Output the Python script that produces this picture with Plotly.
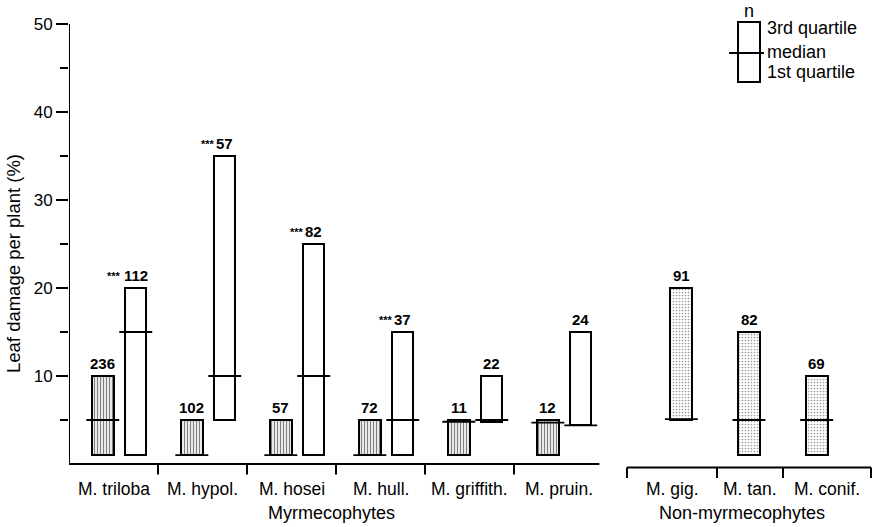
import plotly.graph_objects as go

# ---------------- data ----------------
myrm_species = ["M. triloba", "M. hypol.", "M. hosei", "M. hull.", "M. griffith.", "M. pruin."]
non_species = ["M. gig.", "M. tan.", "M. conif."]
group_names = ["Myrmecophytes", "Non-myrmecophytes"]

# hatched bars (first bar of each myrmecophyte pair)
hat_q1 = [1, 1, 1, 1, 1, 1]
hat_med = [5, 1, 1, 1, 4.8, 4.7]
hat_q3 = [10, 5, 5, 5, 5, 5]
hat_n = [236, 102, 57, 72, 11, 12]

# open bars (second bar of each myrmecophyte pair)
open_q1 = [1, 5, 1, 1, 4.8, 4.4]
open_med = [15, 10, 10, 5, 5, 4.4]
open_q3 = [20, 35, 25, 15, 10, 15]
open_n = [112, 57, 82, 37, 22, 24]
open_sig = ["***", "***", "***", "***", "", ""]

# non-myrmecophytes (dotted bars)
non_q1 = [5, 1, 1]
non_med = [5.1, 5, 5]
non_q3 = [20, 15, 10]
non_n = [91, 82, 69]

y_ticks_major = [10, 20, 30, 40, 50]
y_ticks_minor = [5, 15, 25, 35, 45]

# ---------------- layout parameters ----------------
W, H = 873, 527
ML = 69
SLOT = 89.0                       # px per myrmecophyte category
PX_PER_UNIT = 8.8
Y0_PX = 464
X_MAX = (W - ML) / SLOT
Y_TOP = 50 + 24 / PX_PER_UNIT
Y_BOT = -(H - Y0_PX) / PX_PER_UNIT

g2_bounds = [(627 - ML) / SLOT, (717 - ML) / SLOT, (783 - ML) / SLOT, (871 - ML) / SLOT]
g2_mid = (g2_bounds[0] + g2_bounds[-1]) / 2
g2_step = 0.76
off_hat, off_open = -0.12, 0.25
bw = 0.24
med_w = 0.37
FONT = "Liberation Sans, Arial, Helvetica, sans-serif"

fig = go.Figure()

hat_x = [i + 0.5 + off_hat for i in range(len(myrm_species))]
open_x = [i + 0.5 + off_open for i in range(len(myrm_species))]
non_x = [g2_mid + (j - 1) * g2_step for j in range(len(non_species))]

fig.add_trace(go.Bar(
    x=hat_x, base=hat_q1, y=[b - a for a, b in zip(hat_q1, hat_q3)], width=bw,
    marker=dict(color="white", line=dict(color="black", width=2),
                pattern=dict(shape="|", fgcolor="black", bgcolor="white", size=3, solidity=0.45)),
    showlegend=False, hoverinfo="skip"))
fig.add_trace(go.Bar(
    x=open_x, base=open_q1, y=[b - a for a, b in zip(open_q1, open_q3)], width=bw,
    marker=dict(color="white", line=dict(color="black", width=2)),
    showlegend=False, hoverinfo="skip"))
fig.add_trace(go.Bar(
    x=non_x, base=non_q1, y=[b - a for a, b in zip(non_q1, non_q3)], width=0.25,
    marker=dict(color="white", line=dict(color="black", width=2),
                pattern=dict(shape=".", fgcolor="#333", bgcolor="white", size=3, solidity=0.25)),
    showlegend=False, hoverinfo="skip"))

shapes = []
ann = []

def median_line(x, y):
    shapes.append(dict(type="line", xref="x", yref="y", x0=x - med_w / 2, x1=x + med_w / 2,
                       y0=y, y1=y, line=dict(color="black", width=1.8)))

def count_label(x, y, n, sig=""):
    ann.append(dict(x=x, y=y, xref="x", yref="y", text="<b>%d</b>" % n, showarrow=False,
                    yanchor="bottom", yshift=2, font=dict(family=FONT, size=15, color="black")))
    if sig:
        half = len(str(n)) * 9 / 2
        ann.append(dict(x=x, y=y, xref="x", yref="y", text="<b>%s</b>" % sig, showarrow=False,
                        xanchor="right", xshift=-half + 1, yanchor="bottom", yshift=4,
                        font=dict(family=FONT, size=11, color="black")))

for i in range(len(myrm_species)):
    median_line(hat_x[i], hat_med[i])
    median_line(open_x[i], open_med[i])
    count_label(hat_x[i], hat_q3[i], hat_n[i])
    count_label(open_x[i], open_q3[i], open_n[i], open_sig[i])
for j in range(len(non_species)):
    median_line(non_x[j], non_med[j])
    count_label(non_x[j], non_q3[j], non_n[j])

# axes lines
shapes.append(dict(type="line", xref="x", yref="y", x0=0, x1=0, y0=0, y1=50,
                   line=dict(color="black", width=2)))
shapes.append(dict(type="line", xref="x", yref="y", x0=0, x1=len(myrm_species) - 0.04, y0=0, y1=0,
                   line=dict(color="black", width=2)))
tick_len = 1.2
for i in range(1, len(myrm_species)):
    shapes.append(dict(type="line", xref="x", yref="y", x0=i, x1=i, y0=0, y1=-tick_len,
                       line=dict(color="black", width=2)))
ybr = -0.4
shapes.append(dict(type="line", xref="x", yref="y", x0=g2_bounds[0], x1=g2_bounds[-1], y0=ybr, y1=ybr,
                   line=dict(color="black", width=2)))
for b in g2_bounds:
    shapes.append(dict(type="line", xref="x", yref="y", x0=b, x1=b, y0=ybr, y1=ybr - tick_len,
                       line=dict(color="black", width=2)))

lab_y = -(489 - Y0_PX) / PX_PER_UNIT
grp_y = -(513 - Y0_PX) / PX_PER_UNIT
for i, s in enumerate(myrm_species):
    ann.append(dict(x=i + 0.5, y=lab_y, xref="x", yref="y", text=s, showarrow=False,
                    font=dict(family=FONT, size=17.5, color="black")))
for j, s in enumerate(non_species):
    ann.append(dict(x=(g2_bounds[j] + g2_bounds[j + 1]) / 2, y=lab_y, xref="x", yref="y", text=s,
                    showarrow=False, font=dict(family=FONT, size=17.5, color="black")))
ann.append(dict(x=(331 - ML) / SLOT, y=grp_y, xref="x", yref="y", text=group_names[0],
                showarrow=False, font=dict(family=FONT, size=18, color="black")))
ann.append(dict(x=(742 - ML) / SLOT, y=grp_y, xref="x", yref="y", text=group_names[1],
                showarrow=False, font=dict(family=FONT, size=18, color="black")))

# legend key (top right)
def px2x(px):
    return (px - ML) / SLOT
def py2y(py):
    return (Y0_PX - py) / PX_PER_UNIT

shapes.append(dict(type="rect", xref="x", yref="y", x0=px2x(738), x1=px2x(760), y0=py2y(82), y1=py2y(22),
                   line=dict(color="black", width=2), fillcolor="white"))
shapes.append(dict(type="line", xref="x", yref="y", x0=px2x(729), x1=px2x(764), y0=py2y(53), y1=py2y(53),
                   line=dict(color="black", width=1.8)))
ann.append(dict(x=px2x(749), y=py2y(11), xref="x", yref="y", text="n", showarrow=False,
                font=dict(family=FONT, size=18, color="black")))
for txt, py in [("3rd quartile", 28), ("median", 52), ("1st quartile", 72)]:
    ann.append(dict(x=px2x(765), y=py2y(py), xref="x", yref="y", text=txt, showarrow=False,
                    xanchor="left", font=dict(family=FONT, size=18, color="black")))

fig.update_layout(
    width=W, height=H, margin=dict(l=ML, r=0, t=0, b=0),
    plot_bgcolor="white", paper_bgcolor="white",
    shapes=shapes, annotations=ann, barmode="overlay", bargap=0,
    xaxis=dict(range=[0, X_MAX], showgrid=False, zeroline=False, showline=False,
               showticklabels=False, ticks=""),
    yaxis=dict(range=[Y_BOT, Y_TOP], showgrid=False, zeroline=False, showline=False,
               tickmode="array", tickvals=y_ticks_major, ticktext=[str(v) for v in y_ticks_major],
               ticks="outside", ticklen=12, tickwidth=2, tickcolor="black",
               tickfont=dict(family=FONT, size=17, color="black"),
               minor=dict(tickvals=y_ticks_minor, ticks="outside", ticklen=8, tickwidth=2, tickcolor="black"),
               title=dict(text="Leaf damage per plant (%)", font=dict(family=FONT, size=18.5, color="black"),
                          standoff=8)),
)

fig.write_html("out.html", config={"displayModeBar": False},
               post_script="document.body.style.margin='0px';")
